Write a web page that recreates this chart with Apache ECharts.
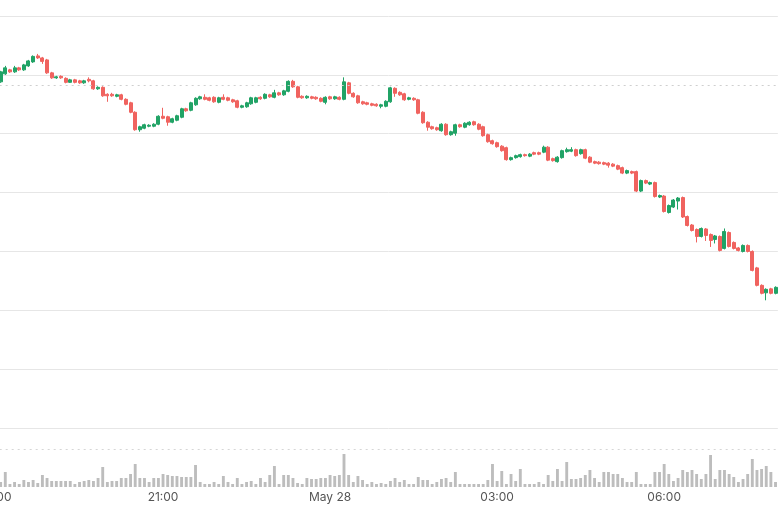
<!DOCTYPE html>
<html>
<head>
<meta charset="utf-8">
<script src="https://cdn.jsdelivr.net/npm/echarts@6/dist/echarts.min.js"></script>
<style>
html,body{margin:0;padding:0;background:#fff;}
#chart{width:780px;height:507px;}
</style>
</head>
<body>
<div id="chart"></div>
<script>
// ---- data ----
// 5-minute candles starting 18:00 (May 27)
const startHour = 18;
const tickLabels = {0:'18:00', 36:'21:00', 72:'May 28', 108:'03:00', 144:'06:00'};

const openArr = [
345,347,355,359,357,361,359,363,367,373,
371,369,356,351,352.5,350.5,346.5,349,348,346,
349.5,348,340,341.5,334.5,334.5,332.5,334,329.5,326,
316.5,299,300.5,302.5,302.5,304.5,312.5,312,306.5,308.5,
311.5,320,318.5,324,330,331.5,331,331.5,326.5,331.5,
331,329,328,321.5,322,325,326.5,331.5,330.5,334,
331.5,336,334,337.5,347.5,342,332.5,331,332,331.5,
330.5,326.5,332,330,331.5,329.5,346,335.5,333,327,
326,325,324.5,322.5,322.5,327,340.5,336.5,335,329.5,
330.5,329,316.5,306.5,302,301,298,304.5,294,295.5,
304,301.5,304,307,304.5,302,294,288,286,282.5,
281,269,271,272,274,272.5,276,276,276.5,281.5,
270,267,271,277,277.5,279,275,279,271.5,267,
266.5,266,265.5,264.5,263,261,255.5,257,257,237.5,
248,244.5,246,231.5,232.5,216,221.5,227.5,231,212,
203.5,199,192,199.5,194,189,192,180,196,186,
180.5,177,183,177,160.5,143,135.5,139.5,135
];
const closeArr = [
348,357,361,357,361,359,364,368,372.5,371,
367.5,356,351,352,351,346.5,349,346.5,346,348,
348,340,341.5,333,333,333,334,329.5,324.5,316.5,
299,302,304,303.5,304.5,312.5,310.5,306.5,310,313,
320,318,326,330.5,332,329.5,328.5,327,331,329.5,
328.5,327,321.5,323,326,331,331,330,334.5,332,
336,334,338,347.5,342,331.5,331,332.5,330.5,330,
327.5,331.5,330,332,329.5,347,335.5,332,326,325,
324.5,323.5,323,324,327.5,341,335.5,334,329,331,
329,315.5,306,301.5,300,299,304.5,294,297,304,
302,305.5,306.5,304,299.5,293,287,285,282,278,
269,271,273,274,273,274.5,274.5,274.5,281.5,268.5,
268,271.5,278,279,279,273,279,270.5,266.5,265.5,
265,264.5,263.5,262.5,259.5,255.5,258,255.5,237.5,248,
245.5,246,232,233,217,223,228.5,230.5,211.5,203,
198,192,200,193,188,192.5,178,197,182,180,
178,183,177,158,143,135,139,135,141
];
const lowArr = [
344,346,354,356,356,358,358,362,366,370,
365,355,350,350,350,345.5,346,345.5,345,345,
346.5,339,339,332,327,332,331.5,328.5,323.5,315.5,
298,297,299.5,301.5,301.5,303.5,309.5,303,305.5,307.5,
310.5,317,317.5,323,329,328.5,327.5,326,325.5,328.5,
327.5,326,320.5,320.5,321,324,325.5,329,329.5,331,
330.5,333,333,336.5,341,330.5,330,330,329.5,329,
326.5,324.5,329,329,328.5,328.5,334.5,331,325,324,
323.5,322.5,322,320.5,321.5,326,332,333,328,328.5,
328,314.5,305,298,299,298,297,293,293,293,
301,300.5,303,303,298.5,292,286,284,281,277,
268,268,270,271,272,271.5,273.5,273.5,275.5,267.5,
267,266,270,276,276.5,272,274,269.5,265.5,264.5,
264,263.5,261,261.5,258.5,254.5,254.5,254.5,236.5,236.5,
244.5,243.5,231,230.5,216,215,220.5,219,210.5,202,
197,186,191,187.5,181.5,185,177,179,181,179,
177,176,176,157,142,134,128,134,134
];
const highArr = [
349,358,363,360,363,362,365,369,373.5,375,
372,370,357,353,353.5,351.5,350,350,349,349,
351.5,349,342.5,342.5,335.5,336,335,335,330.5,327,
317.5,303,305,304.5,305.5,313.5,321,313,311,314,
321,321,327,331.5,333,334.5,332,332.5,332,334.5,
332,330,329,324,327,332,332,332.5,335.5,335,
339,337,339,348.5,349,343,333.5,333.5,333,332.5,
331.5,332.5,333,333,332.5,351.5,347,336.5,334,328,
327,326,325.5,325,328.5,342,341.5,337.5,336,332,
331.5,330,317.5,307.5,303,302,305.5,305.5,298,305,
305,306.5,307.5,308,305.5,303,295,289,287,283.5,
282,272,274,275,275,275.5,277,277,283,282.5,
271,272.5,279,281,281.5,280,280,280,272.5,268,
267.5,267,266.5,265.5,264,262,259,258,258,249,
249,247,247,234,233.5,224,229.5,231.5,232,213,
204.5,200,201,200.5,195,193.5,193,200,197,187,
181.5,184,184,178,161.5,144,140,140.5,142
];
const volumeArr = [
500,500,1500,300,500,300,700,500,700,400,
1200,900,600,600,600,600,600,300,500,600,
700,600,900,2000,500,600,600,900,900,1300,
2300,900,900,500,900,900,1300,1200,1100,1100,
1000,1000,1000,2200,500,300,300,500,300,1100,
500,300,900,300,500,600,300,900,500,1200,
2100,300,1200,1200,900,400,300,900,800,800,
900,900,1200,1100,1200,3300,1200,500,1100,700,
300,500,300,400,300,600,900,500,700,300,
300,1000,700,700,300,500,800,900,500,1500,
300,300,300,300,300,300,700,2300,600,1600,
300,1300,600,1800,300,300,300,500,300,1200,
600,1800,600,2500,800,800,900,1200,1700,900,
500,1500,1500,1300,1300,900,500,500,1500,300,
300,300,1500,1500,2300,1300,600,900,1700,1500,
1700,1300,800,1300,3200,800,1700,1700,1300,1000,
500,800,1300,2800,1700,1800,2100,1500,500
];
const prevCloseLevel = 344;
const volumeCap = 3800;

// ---- build ----
const categories = openArr.map(function(_, i){
  const m = startHour * 60 + i * 5;
  const h = Math.floor(m / 60) % 24, mm = m % 60;
  return (h < 10 ? '0' : '') + h + ':' + (mm < 10 ? '0' : '') + mm;
});
const candleData = openArr.map(function(o, i){ return [o, closeArr[i], lowArr[i], highArr[i]]; });

const UP = '#21a366', DOWN = '#f0635f';
const band = 4.64;
const gridLeft = -4 - band / 2;
const gridWidth = band * openArr.length;
const gridRight = 780 - (gridLeft + gridWidth);

const chart = echarts.init(document.getElementById('chart'), null, {renderer: 'canvas'});
chart.setOption({
  animation: false,
  backgroundColor: '#ffffff',
  grid: [
    {left: gridLeft, right: gridRight, top: 16, bottom: 79, containLabel: false, outerBoundsMode: 'none'},
    {left: gridLeft, right: gridRight, top: 449, bottom: 20, containLabel: false, outerBoundsMode: 'none'}
  ],
  xAxis: [
    {type: 'category', data: categories, gridIndex: 0, boundaryGap: true,
     axisLine: {show: false}, axisTick: {show: false}, axisLabel: {show: false}, splitLine: {show: false}},
    {type: 'category', data: categories, gridIndex: 1, boundaryGap: true,
     axisLine: {show: false}, axisTick: {show: false}, splitLine: {show: false},
     axisLabel: {show: true, interval: 35, margin: 4, color: '#555555', fontSize: 12,
       fontFamily: 'Inter, "Noto Sans", sans-serif',
       formatter: function(v, idx){ return tickLabels[idx] !== undefined ? tickLabels[idx] : v; }}}
  ],
  yAxis: [
    {type: 'value', gridIndex: 0, position: 'right', min: 0, max: 413, interval: 59,
     axisLine: {show: false}, axisTick: {show: false}, axisLabel: {show: false},
     splitLine: {show: true, lineStyle: {color: '#e6e6e6', width: 1}}},
    {type: 'value', gridIndex: 1, position: 'right', min: 0, max: volumeCap,
     axisLine: {show: false}, axisTick: {show: false}, axisLabel: {show: false},
     splitLine: {show: false}}
  ],
  series: [
    {type: 'candlestick', xAxisIndex: 0, yAxisIndex: 0, data: candleData,
     barWidth: '76%',
     itemStyle: {color: UP, color0: DOWN, borderColor: UP, borderColor0: DOWN, borderWidth: 1},
     markLine: {silent: true, symbol: 'none', label: {show: false},
       lineStyle: {color: '#cfcfcf', type: [2, 4], width: 1},
       data: [{yAxis: prevCloseLevel}]}},
    {type: 'bar', xAxisIndex: 1, yAxisIndex: 1, data: volumeArr, barWidth: '62%',
     itemStyle: {color: '#bdbdbd'},
     markLine: {silent: true, symbol: 'none', label: {show: false},
       lineStyle: {color: '#d6d6d6', type: [2, 4], width: 1},
       data: [{yAxis: volumeCap}]}}
  ]
});
</script>
</body>
</html>
